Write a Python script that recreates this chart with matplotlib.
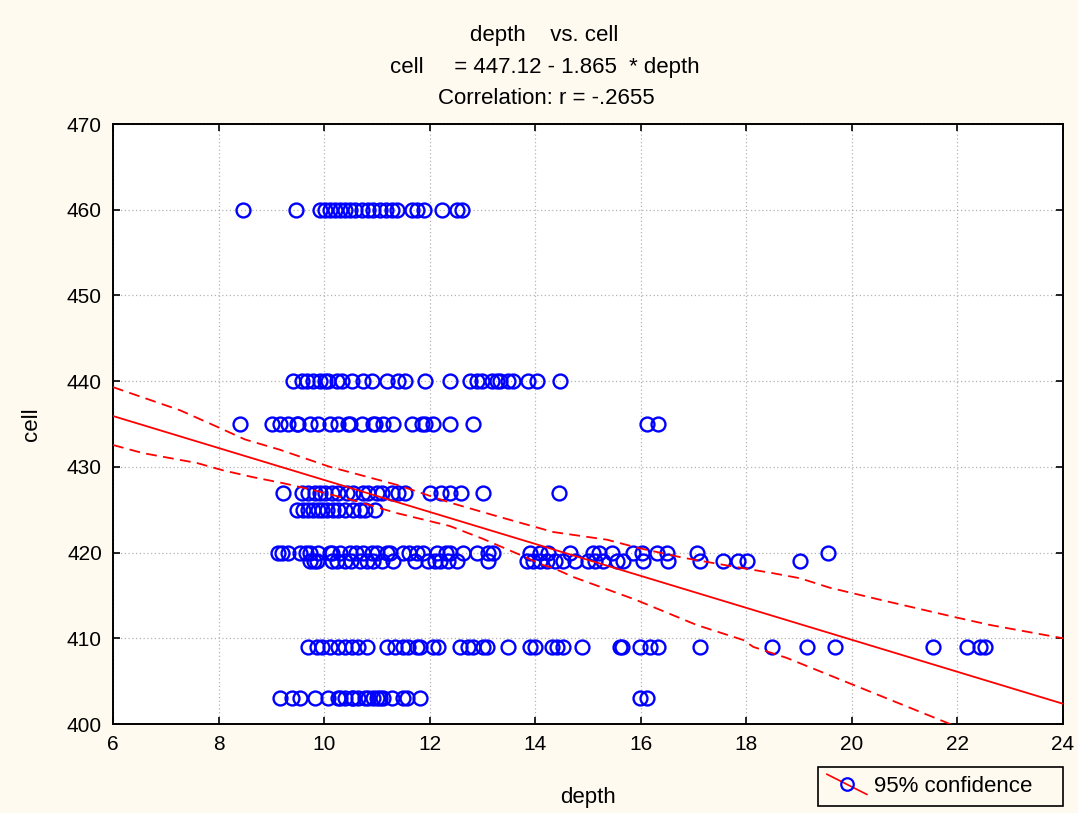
import matplotlib.pyplot as plt
import numpy as np
from matplotlib.lines import Line2D
from matplotlib.legend_handler import HandlerLine2D

plt.rcParams['font.family'] = ['Liberation Sans', 'DejaVu Sans']

# depth readings for each cell level
cell_levels = [460, 440, 435, 427, 425, 420, 419, 409, 403]
depth_by_cell = {
    460: [8.46, 9.47, 9.92, 10.02, 10.11, 10.21, 10.30, 10.40, 10.49, 10.59, 10.72,
          10.83, 10.93, 11.06, 11.18, 11.29, 11.38, 11.67, 11.76, 11.89, 12.23, 12.52, 12.61],
    440: [9.41, 9.58, 9.68, 9.79, 9.92, 10.02, 10.07, 10.24, 10.34, 10.53, 10.74, 10.91,
          11.19, 11.40, 11.53, 11.91, 12.38, 12.76, 12.89, 12.99, 13.18, 13.27, 13.33,
          13.48, 13.58, 13.86, 14.03, 14.47],
    435: [8.41, 9.01, 9.16, 9.32, 9.49, 9.51, 9.73, 9.88, 10.11, 10.26, 10.45, 10.49,
          10.72, 10.93, 10.96, 11.12, 11.30, 11.66, 11.85, 11.91, 12.06, 12.38, 12.82,
          16.12, 16.33],
    427: [9.22, 9.58, 9.69, 9.83, 9.92, 10.02, 10.15, 10.26, 10.43, 10.55, 10.74, 10.83,
          11.00, 11.10, 11.29, 11.40, 11.53, 12.01, 12.21, 12.38, 12.59, 13.01, 14.45],
    425: [9.49, 9.60, 9.69, 9.79, 9.88, 9.96, 10.05, 10.17, 10.26, 10.40, 10.55, 10.68,
          10.77, 10.96],
    420: [9.13, 9.20, 9.32, 9.54, 9.65, 9.73, 9.88, 10.11, 10.15, 10.30, 10.49, 10.60,
          10.74, 10.91, 11.00, 11.19, 11.25, 11.49, 11.60, 11.76, 11.87, 12.14, 12.30,
          12.38, 12.63, 12.90, 13.10, 13.20, 13.90, 14.09, 14.24, 14.66, 15.09, 15.20,
          15.45, 15.85, 16.02, 16.31, 16.50, 17.06, 19.55],
    419: [9.73, 9.80, 9.87, 10.15, 10.25, 10.40, 10.50, 10.68, 10.81, 10.93, 11.10, 11.31,
          11.72, 11.97, 12.10, 12.20, 12.35, 12.52, 13.11, 13.84, 13.96, 14.09, 14.22,
          14.37, 14.53, 14.75, 15.00, 15.13, 15.28, 15.55, 15.66, 16.04, 16.52, 17.12,
          17.56, 17.84, 18.01, 19.02],
    409: [9.69, 9.87, 9.96, 10.11, 10.26, 10.40, 10.53, 10.64, 10.81, 11.19, 11.34, 11.49,
          11.59, 11.76, 11.82, 12.06, 12.16, 12.57, 12.73, 12.82, 13.01, 13.09, 13.48,
          13.90, 13.99, 14.32, 14.41, 14.53, 14.89, 15.61, 15.64, 15.98, 16.17, 16.33,
          17.12, 18.49, 19.15, 19.68, 21.54, 22.18, 22.43, 22.52],
    403: [9.16, 9.39, 9.54, 9.83, 10.07, 10.26, 10.30, 10.40, 10.53, 10.55, 10.65, 10.77,
          10.83, 10.93, 11.00, 11.05, 11.12, 11.29, 11.49, 11.57, 11.82, 15.98, 16.12],
}

# fitted line: cell = 447.12 - 1.865 * depth
intercept = 447.12
slope = -1.865

# 95% confidence band around the fit
upper_x = [6.0, 7.27, 8.0, 8.5, 9.16, 10.11, 11.38, 12.4, 13.3, 14.34, 15.36, 15.98,
           16.8, 17.63, 18.5, 19.02, 19.58, 20.53, 22.0, 22.62, 24.0]
upper_y = [439.3, 436.6, 434.6, 433.2, 432.0, 430.0, 427.9, 425.8, 424.2, 422.4, 421.5,
           420.5, 419.4, 418.5, 417.6, 417.0, 415.9, 414.5, 412.4, 411.55, 410.0]
lower_x = [6.0, 6.57, 7.59, 8.08, 8.65, 9.22, 9.79, 10.55, 11.38, 12.38, 13.01, 13.65,
           14.15, 14.34, 14.72, 15.9, 17.06, 17.94, 18.13, 18.77, 21.86, 24.0]
lower_y = [432.55, 431.6, 430.45, 429.6, 428.8, 428.1, 427.3, 426.1, 424.6, 423.1,
           421.6, 419.9, 418.55, 418.2, 417.15, 414.5, 411.55, 409.8, 409.0, 407.7,
           400.0, 394.7]

bg = '#fefaf0'


class DiagonalHandler(HandlerLine2D):
    # legend key: red line running diagonally through an open blue circle
    def create_artists(self, legend, orig_handle, xdescent, ydescent, width, height,
                       fontsize, trans):
        x0, x1 = -xdescent, -xdescent + width
        y0, y1 = -ydescent + height * 1.15, -ydescent - height * 0.15
        ln = Line2D([x0, x1], [y0, y1], color='red', lw=1.2)
        mk = Line2D([(x0 + x1) / 2], [(y0 + y1) / 2], marker='o', ms=9,
                    mfc='none', mec='blue', mew=1.6, ls='none')
        ln.set_transform(trans)
        mk.set_transform(trans)
        return [ln, mk]


fig = plt.figure(figsize=(10.78, 8.13), dpi=100, facecolor=bg)
ax = fig.add_axes([113 / 1078, 1 - 724 / 813, 950 / 1078, 600 / 813])
ax.set_facecolor('white')

for level in cell_levels:
    xs = depth_by_cell[level]
    ax.plot(xs, [level] * len(xs), ls='none', marker='o', ms=10, mfc='none',
            mec='blue', mew=1.7, zorder=3)

xl = np.array([6, 24])
ax.plot(xl, intercept + slope * xl, color='red', lw=1.3, zorder=4)
ax.plot(upper_x, upper_y, color='red', lw=1.3, ls=(0, (6, 3.5)), zorder=4)
ax.plot(lower_x, lower_y, color='red', lw=1.3, ls=(0, (6, 3.5)), zorder=4)

ax.set_xlim(6, 24)
ax.set_ylim(400, 470)
ax.set_xticks(np.arange(6, 25, 2))
ax.set_yticks(np.arange(400, 471, 10))
ax.grid(True, color='#b4b4b4', ls=(0, (1, 2)), lw=0.9)
ax.set_axisbelow(True)
ax.tick_params(direction='in', length=5, width=1.2, top=True, right=True,
               labelsize=15, pad=8)
for s in ax.spines.values():
    s.set_linewidth(1.4)

ax.set_xlabel('depth', fontsize=16, labelpad=24)
ax.set_ylabel('cell', fontsize=16, labelpad=18)

fig.text(0.505, 1 - 35 / 813, 'depth    vs. cell', ha='center', va='center', fontsize=16)
fig.text(0.505, 1 - 68 / 813, 'cell     = 447.12 - 1.865  * depth', ha='center',
         va='center', fontsize=16)
fig.text(0.507, 1 - 98 / 813, 'Correlation: r = -.2655', ha='center', va='center',
         fontsize=16)

proxy = Line2D([], [], color='red')
leg = fig.legend([proxy], ['95% confidence'], handler_map={proxy: DiagonalHandler()},
                 loc='lower left', mode='expand',
                 bbox_to_anchor=(818 / 1078, 1 - 806 / 813, 245 / 1078, 38 / 813),
                 borderaxespad=0, fancybox=False, fontsize=16, handlelength=1.8,
                 handletextpad=0.3, borderpad=0.4, frameon=True)
leg.get_frame().set_edgecolor('black')
leg.get_frame().set_linewidth(1.2)
leg.get_frame().set_facecolor(bg)
leg.get_frame().set_alpha(1)

fig.savefig('out.png', dpi=100, facecolor=bg)
